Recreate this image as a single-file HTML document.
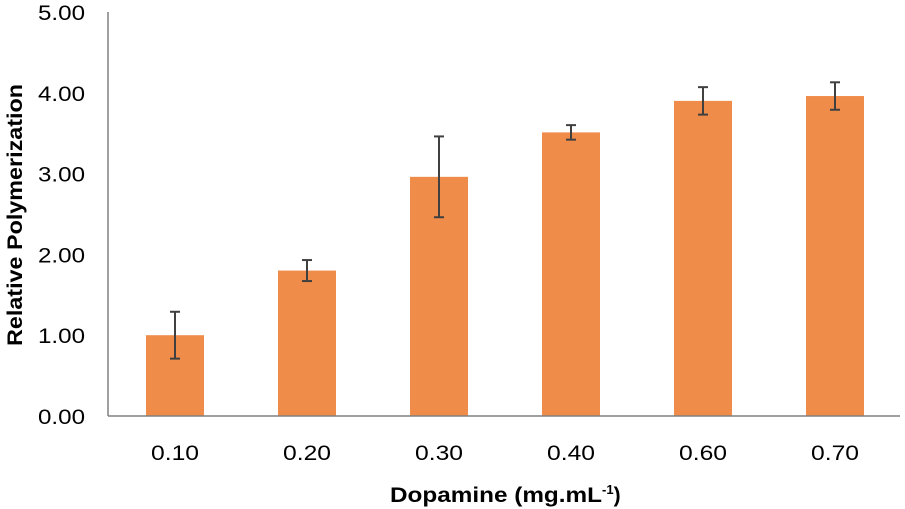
<!DOCTYPE html>
<html><head><meta charset="utf-8"><style>
body{margin:0;background:#fff;}
svg{display:block;font-family:"Liberation Sans",Arial,sans-serif;}
</style></head><body>
<svg id="chart" width="905" height="509">
<g id="bars"></g>
<g id="errs"></g>
<g id="axes"></g>
<text x="390" y="502" font-size="21" font-weight="bold" fill="#000"><tspan textLength="212" lengthAdjust="spacingAndGlyphs">Dopamine (mg.mL</tspan><tspan dy="-8" font-size="13">-1</tspan><tspan dy="8">)</tspan></text>
<text transform="translate(22,215) rotate(-90)" text-anchor="middle" font-size="21" font-weight="bold" fill="#000" textLength="262" lengthAdjust="spacingAndGlyphs">Relative Polymerization</text>
</svg>
<script>
const categories=["0.10","0.20","0.30","0.40","0.60","0.70"];
const values=[1.00,1.80,2.96,3.51,3.90,3.96];
const errors=[0.29,0.13,0.50,0.09,0.17,0.17];
const yTicks=[0,1,2,3,4,5];
const yTickLabels=["0.00","1.00","2.00","3.00","4.00","5.00"];
const NS="http://www.w3.org/2000/svg";
const x0=108,x1=900,yTop=12,yBot=416,yMax=5;
const step=(x1-x0)/categories.length;
const y=v=>yBot-(v/yMax)*(yBot-yTop);
const xc=i=>x0+step*(i+0.5)+1;
function mk(tag,attrs,parent){const e=document.createElementNS(NS,tag);for(const k in attrs)e.setAttribute(k,attrs[k]);parent.appendChild(e);return e;}
const bars=document.getElementById('bars'),errs=document.getElementById('errs'),axes=document.getElementById('axes');
const bw=58;
values.forEach((v,i)=>{
 const r=mk('rect',{x:xc(i)-bw/2,y:y(v),width:bw,height:yBot-y(v),fill:'#F08C4A'},bars);
 
 
 const g=mk('g',{stroke:'#404040','stroke-width':2},errs);
 
 
 const hi=y(v+errors[i]),lo=y(v-errors[i]),c=xc(i);
 mk('line',{x1:c,x2:c,y1:hi,y2:lo},g);
 mk('line',{x1:c-5,x2:c+5,y1:hi,y2:hi},g);
 mk('line',{x1:c-5,x2:c+5,y1:lo,y2:lo},g);
 const t=mk('text',{x:c-24,y:460,'font-size':21,fill:'#000',textLength:48,lengthAdjust:'spacingAndGlyphs'},axes);
 t.textContent=categories[i];
 
 
});
yTicks.forEach((v,i)=>{
 const t=mk('text',{x:38,y:y(v)+8,'font-size':21,fill:'#000',textLength:47,lengthAdjust:'spacingAndGlyphs'},axes);
 t.textContent=yTickLabels[i];
 
 
});
const ya=mk('line',{x1:x0,x2:x0,y1:yTop,y2:yBot,stroke:'#808080','stroke-width':1.5},axes);

const xa=mk('line',{x1:x0,x2:x1,y1:yBot,y2:yBot,stroke:'#808080','stroke-width':1.5},axes);

</script>
</body></html>
